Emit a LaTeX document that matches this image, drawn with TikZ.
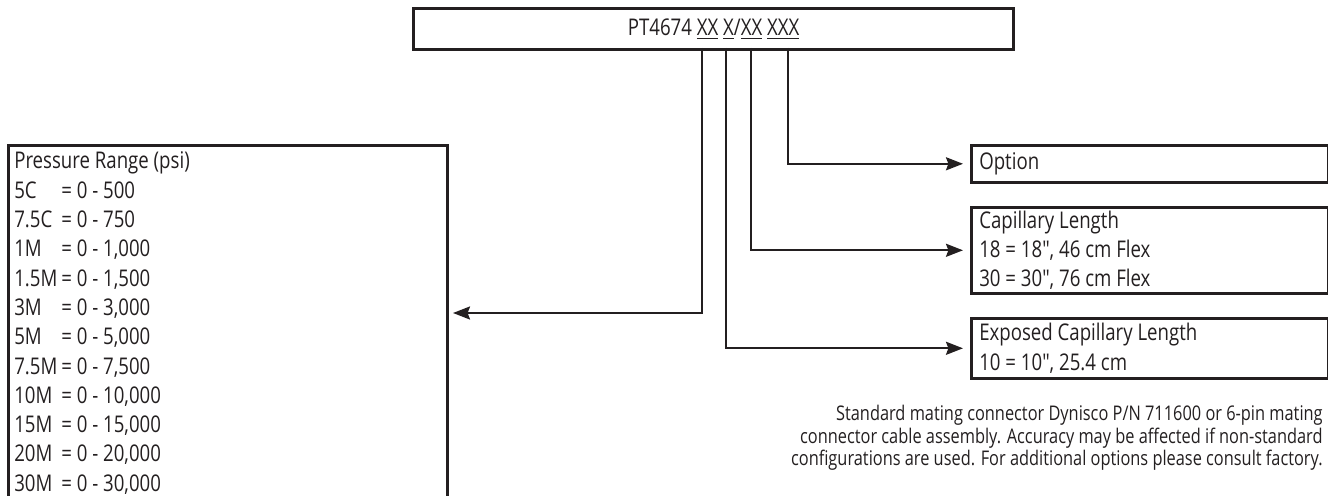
\documentclass[tikz,border=0pt]{standalone}
\usepackage{fontspec}
\setmainfont{Open Sans}[FakeStretch=0.81,Ligatures=TeXOff]
\usetikzlibrary{arrows.meta}
\definecolor{ink}{HTML}{231F20}
\newcommand{\prow}[2]{\makebox[23.5pt][l]{#1}= #2}
\tikzset{
  codebox/.style={draw=ink,line width=1.6pt,anchor=north west,inner sep=0pt,
    minimum width=300pt,minimum height=20.5pt},
  rangebox/.style={draw=ink,line width=1.3pt,anchor=north west,align=flush left,
    inner xsep=3pt,inner ysep=3.4pt,text width=213.5pt},
  specbox/.style={draw=ink,line width=1.3pt,anchor=north west,align=flush left,
    inner xsep=4pt,inner ysep=0pt,text width=170.5pt},
  conn/.style={draw=ink,line width=1.1pt,shorten >=3.5pt,
    -{Stealth[length=8.5pt,width=6.5pt,inset=1.2pt]}},
}
\begin{document}
\begin{tikzpicture}[x=0.5pt,y=-0.5pt,text=ink,font=\fontsize{11.5}{14.65}\selectfont]
  \useasboundingbox (0,0) rectangle (1328,496);
  \clip (0,0) rectangle (1328,496);
  \node[codebox] (code) at (412,7)
    {PT4674 \underline{XX} \underline{X}/\underline{XX} \underline{XXX}};
  \node[rangebox] (range) at (7,144) {Pressure Range (psi)\\
    \prow{5C}{0 - 500}\\
    \prow{7.5C}{0 - 750}\\
    \prow{1M}{0 - 1,000}\\
    \prow{1.5M}{0 - 1,500}\\
    \prow{3M}{0 - 3,000}\\
    \prow{5M}{0 - 5,000}\\
    \prow{7.5M}{0 - 7,500}\\
    \prow{10M}{0 - 10,000}\\
    \prow{15M}{0 - 15,000}\\
    \prow{20M}{0 - 20,000}\\
    \prow{30M}{0 - 30,000}};
  \node[specbox,minimum height=18.5pt] (option) at (970,144) {Option};
  \node[specbox,minimum height=43pt] (length) at (970,206)
    {Capillary Length\\18 = 18", 46 cm Flex\\30 = 30", 76 cm Flex};
  \node[specbox,minimum height=30pt] (exposed) at (970,317)
    {Exposed Capillary Length\\10 = 10", 25.4 cm};
  \node[anchor=north east,align=right,inner sep=0pt,
    font=\fontsize{10.1}{8.75}\selectfont] (note) at (1323,405)
    {Standard mating connector Dynisco P/N 711600 or 6-pin mating\\
     connector cable assembly. Accuracy may be affected if non-standard\\
     configurations are used. For additional options please consult factory.};
  % taps under the code digits
  \coordinate (c1) at (702,48);
  \coordinate (c2) at (726,48);
  \coordinate (c3) at (751,48);
  \coordinate (c4) at (788,48);
  \coordinate (rangetip) at (446,313);
  \draw[conn] (c1) |- (rangetip);
  \draw[conn] (c2) |- (exposed.west);
  \draw[conn] (c3) |- (length.west);
  \draw[conn] (c4) |- (option.west);
\end{tikzpicture}
\end{document}
